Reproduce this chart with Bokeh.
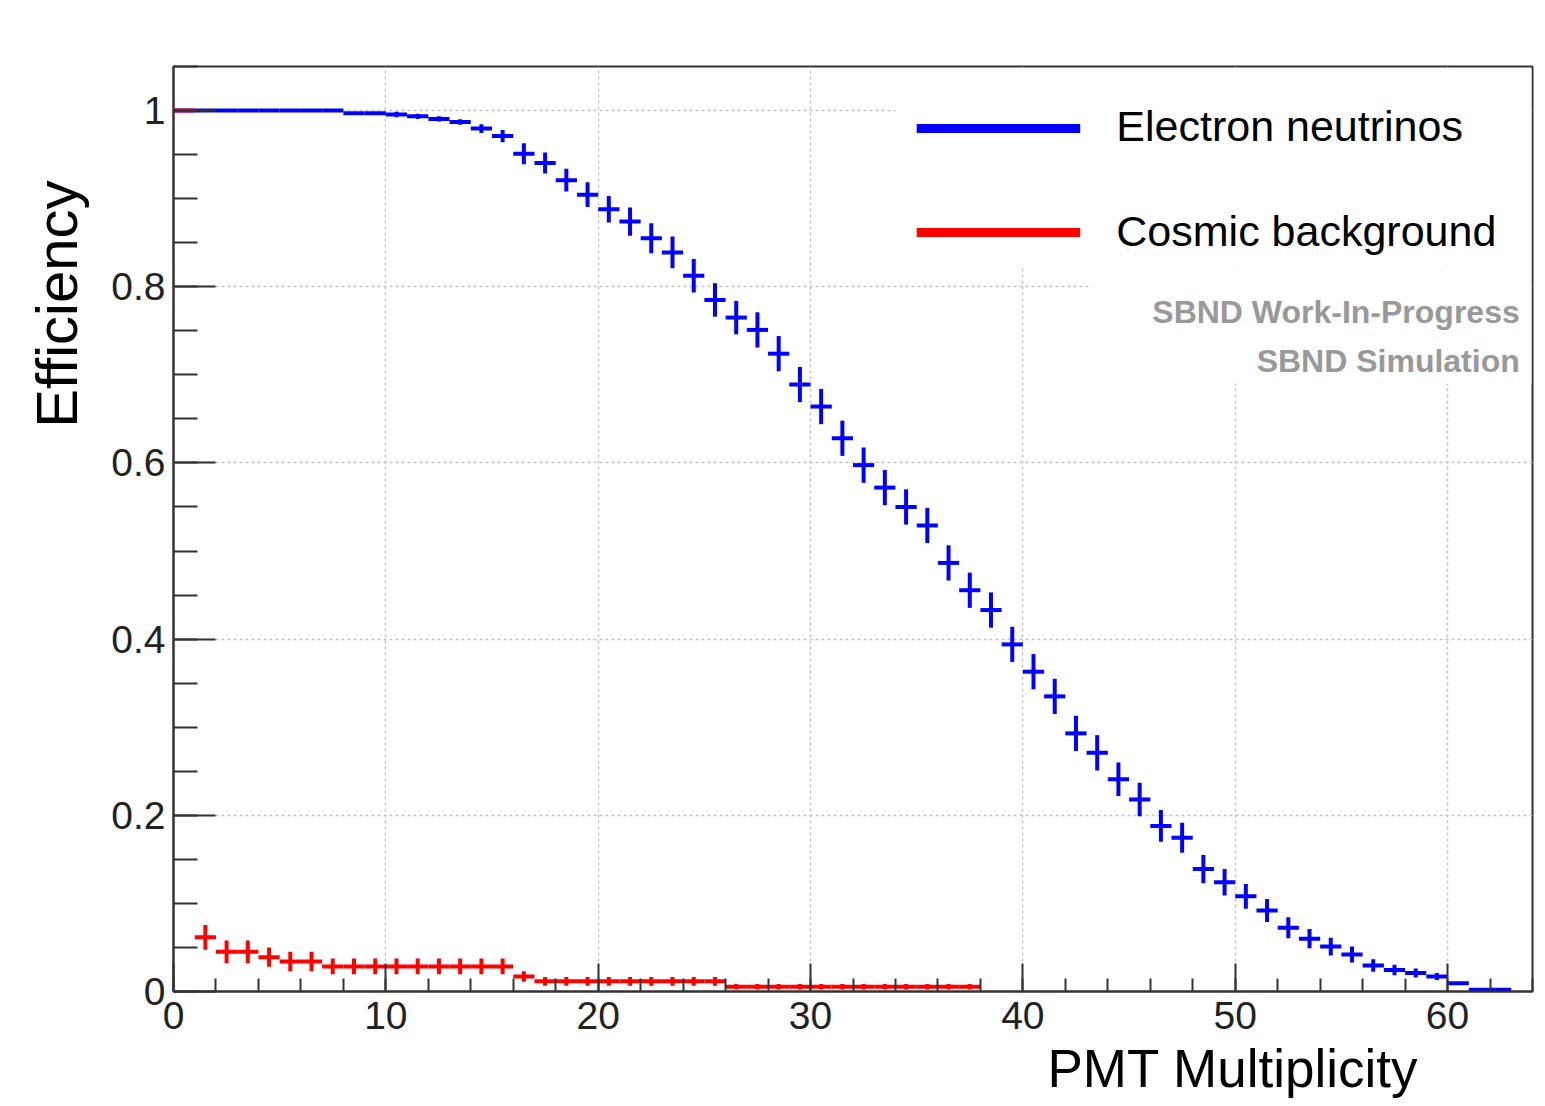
from bokeh.plotting import figure
from bokeh.models import (Range1d, SingleIntervalTicker, Label, BoxAnnotation,
                          ColumnDataSource, CustomJSTickFormatter, Title)
from bokeh.embed import file_html
from bokeh.resources import INLINE

# ---- data (bin low edges, efficiency, half error) ----
nue_bin_low = list(range(0, 63))
nue_eff = [1.0, 1.0, 1.0, 1.0, 1.0, 1.0, 1.0, 1.0, 0.997, 0.997,
           0.9955, 0.9935, 0.9905, 0.987, 0.9795, 0.971, 0.951, 0.9405, 0.921, 0.9045,
           0.888, 0.874, 0.855, 0.839, 0.8125, 0.785, 0.765, 0.751, 0.724, 0.689,
           0.664, 0.628, 0.5975, 0.572, 0.550, 0.529, 0.4865, 0.4555, 0.433, 0.394,
           0.363, 0.335, 0.293, 0.271, 0.241, 0.218, 0.188, 0.1745, 0.139, 0.124,
           0.108, 0.092, 0.0724, 0.060, 0.051, 0.042, 0.0295, 0.0245, 0.021, 0.017,
           0.0095, 0.002, 0.002]
nue_err = [0, 0, 0, 0, 0, 0, 0, 0, 0, 0,
           0.003, 0.003, 0.003, 0.003, 0.005, 0.007, 0.012, 0.012, 0.013, 0.014,
           0.015, 0.016, 0.017, 0.018, 0.019, 0.019, 0.019, 0.020, 0.020, 0.020,
           0.020, 0.020, 0.020, 0.020, 0.020, 0.020, 0.020, 0.020, 0.020, 0.020,
           0.020, 0.020, 0.020, 0.020, 0.019, 0.019, 0.018, 0.017, 0.016, 0.015,
           0.014, 0.013, 0.012, 0.011, 0.010, 0.009, 0.007, 0.006, 0.005, 0.004,
           0, 0, 0]

cos_bin_low = list(range(0, 38))
cos_eff = [1.0, 0.0615, 0.045, 0.045, 0.039, 0.034, 0.034,
           0.0285, 0.0285, 0.0285, 0.0285, 0.0285, 0.0285, 0.0285, 0.0285, 0.0285,
           0.017,
           0.0115, 0.0115, 0.0115, 0.0115, 0.0115, 0.0115, 0.0115, 0.0115, 0.0115,
           0.0054, 0.0054, 0.0054, 0.0054, 0.0054, 0.0054, 0.0054, 0.0054, 0.0054,
           0.0054, 0.0054, 0.0054]
cos_err = [0, 0.014, 0.013, 0.013, 0.011, 0.011, 0.011,
           0.009, 0.009, 0.009, 0.009, 0.009, 0.009, 0.009, 0.009, 0.009,
           0.006,
           0.005, 0.005, 0.005, 0.005, 0.005, 0.005, 0.005, 0.005, 0.005,
           0.003, 0.003, 0.003, 0.003, 0.003, 0.003, 0.003, 0.003, 0.003,
           0.003, 0.003, 0.003]

series_names = ["Electron neutrinos", "Cosmic background"]
series_colors = ["#0000ff", "#ff0000"]
x_ticks_interval = 10
y_ticks_interval = 0.2

FONT = "Liberation Sans"

p = figure(width=1545, height=1106, output_backend="svg", toolbar_location=None,
           x_range=Range1d(0, 64), y_range=Range1d(0, 1.05),
           min_border_left=173, min_border_right=13, min_border_top=66,
           min_border_bottom=115)
p.background_fill_color = "white"
p.border_fill_color = "white"
p.outline_line_color = "#333333"
p.outline_line_width = 2

# axes
p.xaxis.ticker = SingleIntervalTicker(interval=x_ticks_interval, num_minor_ticks=5)
p.yaxis.ticker = SingleIntervalTicker(interval=y_ticks_interval, num_minor_ticks=4)
p.yaxis.formatter = CustomJSTickFormatter(code="return parseFloat(tick.toFixed(2)).toString();")
for ax in (p.xaxis, p.yaxis):
    ax.axis_line_color = "#333333"
    ax.axis_line_width = 2
    ax.major_tick_line_color = "#333333"
    ax.major_tick_line_width = 2
    ax.minor_tick_line_color = "#333333"
    ax.minor_tick_line_width = 2
    ax.major_tick_out = 0
    ax.minor_tick_out = 0
    ax.major_label_text_font = FONT
    ax.major_label_text_font_size = "39px"
    ax.major_label_text_color = "#222222"
p.xaxis.major_tick_in = 28
p.xaxis.minor_tick_in = 13
p.xaxis.major_label_standoff = 10
p.yaxis.major_tick_in = 42
p.yaxis.minor_tick_in = 24
p.yaxis.major_label_standoff = 8

for g in (p.xgrid, p.ygrid):
    g.grid_line_color = "#c4c4c4"
    g.grid_line_dash = "3 3"
    g.grid_line_width = 1.5

# axis titles (ROOT style: aligned to the end of the axis)
p.add_layout(Title(text="Efficiency", align="right", offset=114, standoff=40,
                   text_font=FONT, text_font_size="58px", text_font_style="normal",
                   text_color="black"), "left")
p.add_layout(Title(text="PMT Multiplicity", align="right", offset=114, standoff=10,
                   text_font=FONT, text_font_size="53px", text_font_style="normal",
                   text_color="black"), "below")

# white boxes behind legend and labels (hide grid)
p.add_layout(BoxAnnotation(left=34.0, right=63.95, bottom=0.825, top=1.048,
                           fill_color="white", fill_alpha=1, line_alpha=0,
                           level="underlay"))
p.add_layout(BoxAnnotation(left=43.1, right=63.95, bottom=0.69, top=0.825,
                           fill_color="white", fill_alpha=1, line_alpha=0,
                           level="underlay"))

def draw_series(bin_low, eff, err, color):
    src = ColumnDataSource(dict(
        lo=[b for b in bin_low],
        hi=[b + 1 for b in bin_low],
        c=[b + 0.5 for b in bin_low],
        y=eff,
        ylo=[e - s for e, s in zip(eff, err)],
        yhi=[e + s for e, s in zip(eff, err)],
    ))
    p.segment(x0="lo", x1="hi", y0="y", y1="y", source=src,
              line_color=color, line_width=4, line_cap="butt")
    p.segment(x0="c", x1="c", y0="ylo", y1="yhi", source=src,
              line_color=color, line_width=4, line_cap="butt")

draw_series(nue_bin_low, nue_eff, nue_err, series_colors[0])
draw_series(cos_bin_low, cos_eff, cos_err, series_colors[1])

# legend (manual, ROOT style)
leg_y = [0.9796, 0.8616]
leg_text_y = [0.9821, 0.8629]
for name, col, ly, ty in zip(series_names, series_colors, leg_y, leg_text_y):
    p.line(x=[35.0, 42.7], y=[ly, ly], line_color=col, line_width=9)
    p.add_layout(Label(x=44.4, y=ty, text=name, text_font=FONT,
                       text_font_size="43px", text_color="black",
                       text_baseline="alphabetic", text_align="left"))

p.add_layout(Label(x=63.4, y=0.7709, text="SBND Work-In-Progress", text_font=FONT,
                   text_font_size="32px", text_font_style="bold",
                   text_color="#999999", text_align="right",
                   text_baseline="alphabetic"))
p.add_layout(Label(x=63.4, y=0.7153, text="SBND Simulation", text_font=FONT,
                   text_font_size="32px", text_font_style="bold",
                   text_color="#999999", text_align="right",
                   text_baseline="alphabetic"))

open("out.html", "w").write(file_html(p, INLINE))
